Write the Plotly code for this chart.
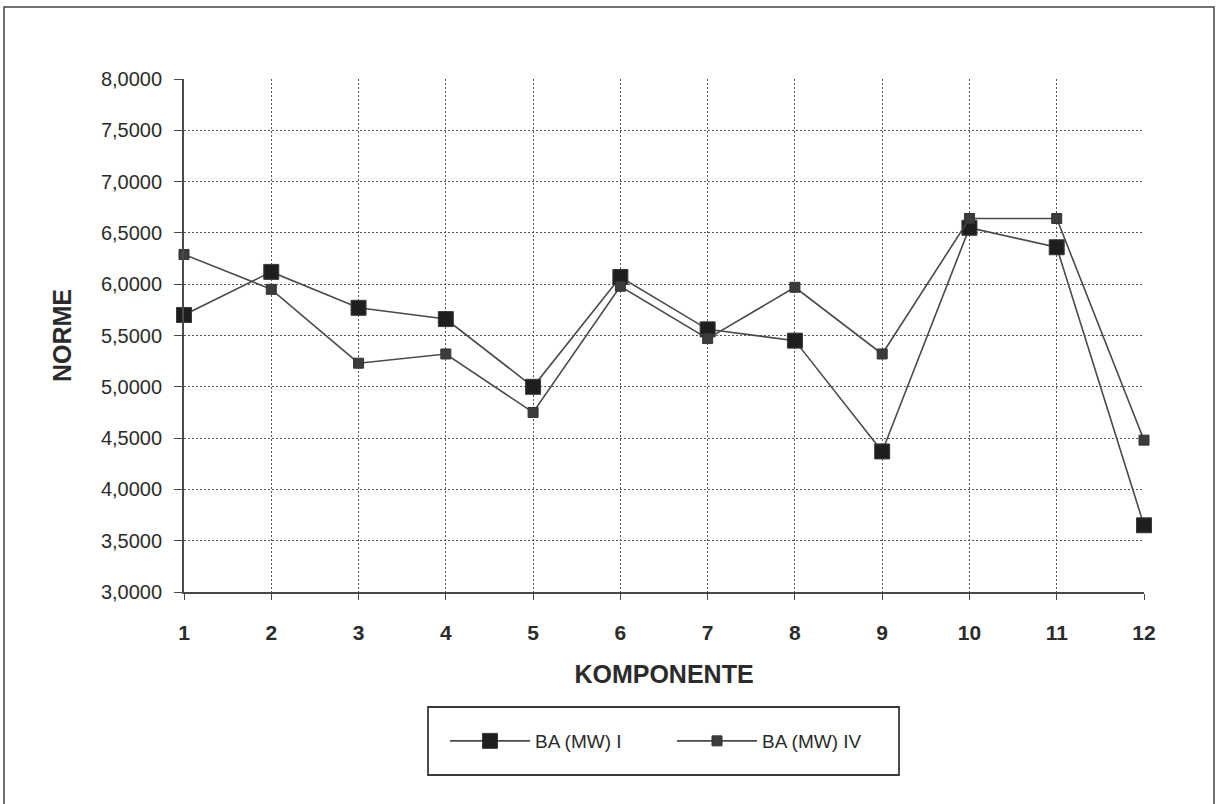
import plotly.graph_objects as go

# Components and norm values for the two series
komponente = [1, 2, 3, 4, 5, 6, 7, 8, 9, 10, 11, 12]
ba_mw_i = [5.70, 6.12, 5.77, 5.66, 5.00, 6.07, 5.56, 5.45, 4.37, 6.55, 6.36, 3.65]
ba_mw_iv = [6.29, 5.95, 5.23, 5.32, 4.75, 5.98, 5.47, 5.97, 5.32, 6.64, 6.64, 4.48]

y_ticks = [3.0, 3.5, 4.0, 4.5, 5.0, 5.5, 6.0, 6.5, 7.0, 7.5, 8.0]
y_tick_labels = [f"{v:.4f}".replace(".", ",") for v in y_ticks]

W, H = 1218, 804
ML, MR, MT, MB = 184, 74, 79, 212
PW, PH = W - ML - MR, H - MT - MB

def px_x(px):
    return (px - ML) / PW

def px_y(py):
    return (H - MB - py) / PH

LINE = "#4a4a4a"
TXT = "#2b2b2b"
FONT = "Liberation Sans, Arial, sans-serif"

fig = go.Figure()
fig.add_trace(go.Scatter(
    x=komponente, y=ba_mw_i, name="BA (MW) I", mode="lines+markers",
    line=dict(color=LINE, width=1.6), cliponaxis=False,
    marker=dict(symbol="square", size=15, color="#1e1e1e",
                line=dict(color="#3a3a3a", width=1)),
))
fig.add_trace(go.Scatter(
    x=komponente, y=ba_mw_iv, name="BA (MW) IV", mode="lines+markers",
    line=dict(color=LINE, width=1.6), cliponaxis=False,
    marker=dict(symbol="square", size=10, color="#3c3c3c",
                line=dict(color="#333333", width=1)),
))

# outer chart frame (its bottom edge runs past the page)
fig.add_shape(type="rect", xref="paper", yref="paper",
              x0=px_x(4), x1=px_x(1214), y0=px_y(812), y1=px_y(7),
              line=dict(color="#444444", width=1.5), fillcolor="rgba(0,0,0,0)",
              layer="below")
# legend box
fig.add_shape(type="rect", xref="paper", yref="paper",
              x0=px_x(428), x1=px_x(899), y0=px_y(775), y1=px_y(707),
              line=dict(color="#3a3a3a", width=1.8), fillcolor="white",
              layer="below")

fig.update_layout(
    width=W, height=H,
    margin=dict(l=ML, r=MR, t=MT, b=MB),
    paper_bgcolor="white", plot_bgcolor="white",
    font=dict(family=FONT, color=TXT, size=15),
    showlegend=True,
    legend=dict(
        orientation="h", x=px_x(445), xanchor="left",
        y=px_y(741), yanchor="middle",
        borderwidth=0, bgcolor="rgba(0,0,0,0)",
        font=dict(family=FONT, size=19, color=TXT),
        itemwidth=80,
        entrywidth=132, entrywidthmode="pixels",
    ),
    xaxis=dict(
        range=[1, 12], tickmode="array", tickvals=komponente,
        ticktext=[str(k) for k in komponente],
        tickfont=dict(family=FONT, size=21, color=TXT, weight="bold"),
        ticklabelstandoff=15,
        showgrid=True, gridcolor="#555555", griddash="2px,2px", gridwidth=1,
        showline=True, linecolor=LINE, linewidth=1.8,
        ticks="outside", ticklen=6, tickcolor=LINE,
        zeroline=False,
        title=dict(text="<b>KOMPONENTE</b>", standoff=22,
                   font=dict(family=FONT, size=25, color=TXT)),
    ),
    yaxis=dict(
        range=[3, 8], tickmode="array", tickvals=y_ticks, ticktext=y_tick_labels,
        tickfont=dict(family=FONT, size=20, color=TXT),
        ticklabelstandoff=8,
        showgrid=True, gridcolor="#555555", griddash="2px,2px", gridwidth=1,
        showline=True, linecolor=LINE, linewidth=1.8,
        ticks="outside", ticklen=8, tickcolor=LINE,
        zeroline=False,
        title=dict(text="<b>NORME</b>", standoff=22,
                   font=dict(family=FONT, size=25, color=TXT)),
    ),
)

fig.write_html("out.html")
